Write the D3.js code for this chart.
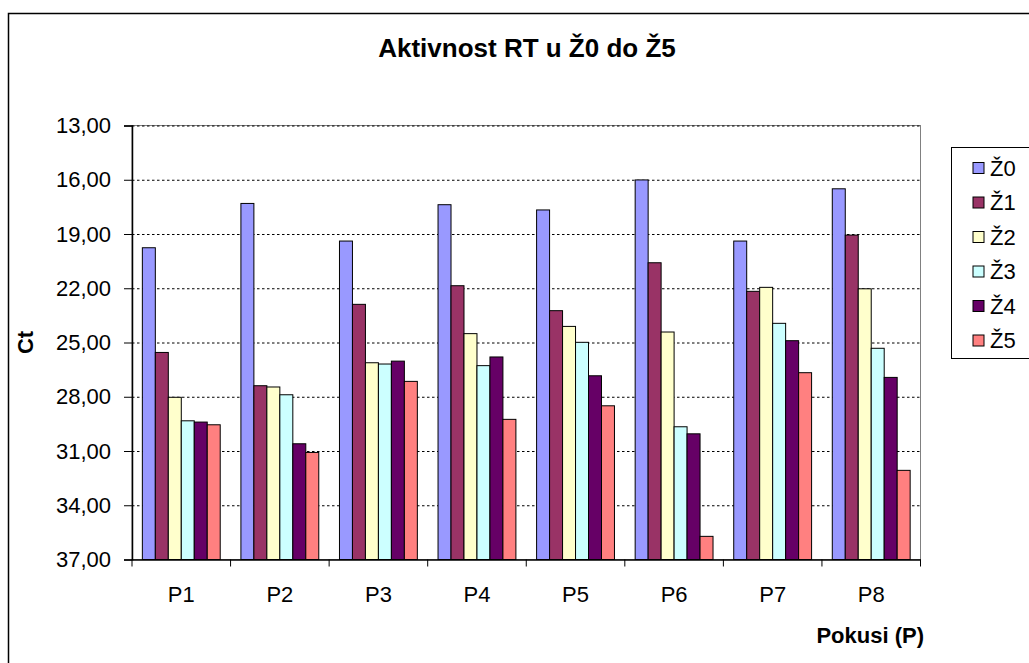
<html>
<head>
<meta charset="utf-8">
<script src="https://d3js.org/d3.v7.min.js"></script>
<style>
  body { margin: 0; background: #fff; }
  text { font-family: "Liberation Sans", Arial, sans-serif; fill: #000; }
  .tickLabel { font-size: 22px; }
  .grid line { stroke: #000; stroke-dasharray: 2.5,2.5; }
  .grid .domain { display: none; }
</style>
</head>
<body>
<svg width=1029 height=663 id="chart"></svg>
<script>
  // data
  categories = ["P1", "P2", "P3", "P4", "P5", "P6", "P7", "P8"];
  seriesNames = ["Ž0", "Ž1", "Ž2", "Ž3", "Ž4", "Ž5"];
  seriesColors = ["#9999FF", "#993366", "#FFFFCC", "#CCFFFF", "#660066", "#FF8080"];
  z0 = [19.76, 17.31, 19.39, 17.38, 17.67, 16.01, 19.39, 16.50];
  z1 = [25.55, 27.39, 22.89, 21.86, 23.24, 20.59, 22.17, 19.06];
  z2 = [28.03, 27.46, 26.12, 24.51, 24.11, 24.42, 21.95, 22.03];
  z3 = [29.33, 27.89, 26.19, 26.28, 24.99, 29.66, 23.94, 25.32];
  z4 = [29.40, 30.60, 26.03, 25.80, 26.84, 30.05, 24.90, 26.93];
  z5 = [29.55, 31.08, 27.15, 29.25, 28.50, 35.72, 26.67, 32.07];
  yTicks = [13, 16, 19, 22, 25, 28, 31, 34, 37];
  allSeries = [z0, z1, z2, z3, z4, z5];

  plotLeft = 132; plotRight = 920.5; plotTop = 125.5; plotBottom = 559.5;

  svg = d3.select("#chart");

  // outer chart border
  svg.append("rect")
      .attr("x", 8.5).attr("y", 13.5)
      .attr("width", 1040).attr("height", 700)
      .attr("fill", "none")
      .attr("stroke", "#000")
      .attr("stroke-width", 1.5);

  y = d3.scaleLinear().domain([13, 37]).range([plotTop, plotBottom]);
  x = d3.scaleBand().domain(categories).range([plotLeft, plotRight]);
  gap = x.bandwidth() * 0.21;
  x1 = d3.scaleBand().domain(seriesNames).range([gap / 2, x.bandwidth() - gap / 2]);

  // plot area border
  svg.append("rect")
      .attr("x", plotLeft).attr("y", plotTop)
      .attr("width", plotRight - plotLeft).attr("height", plotBottom - plotTop)
      .attr("fill", "none")
      .attr("stroke", "#808080");

  // gridlines
  svg.append("g")
      .attr("class", "grid")
      .attr("transform", "translate(" + plotLeft + ",0)")
      .call(d3.axisLeft(y).tickValues(yTicks.slice(0, -1)).tickSize(-(plotRight - plotLeft)).tickFormat(""));

  // bars
  groups = svg.append("g")
      .selectAll("g")
      .data(categories)
      .join("g")
      .attr("transform", c => "translate(" + x(c) + ",0)");

  groups.selectAll("rect")
      .data((c, i) => seriesNames.map((s, j) => ({ s: s, v: allSeries[j][i], col: seriesColors[j] })))
      .join("rect")
      .attr("x", d => x1(d.s))
      .attr("width", x1.bandwidth())
      .attr("y", d => y(d.v))
      .attr("height", d => y(37) - y(d.v))
      .attr("fill", d => d.col)
      .attr("stroke", "#000")
      .attr("stroke-width", 1);

  // y axis
  yAxis = svg.append("g")
      .attr("transform", "translate(" + plotLeft + ",0)")
      .call(d3.axisLeft(y).tickValues(yTicks).tickSize(8).tickPadding(13)
          .tickFormat(d => d3.format(".2f")(d).replace(".", ",")));
  yAxis.selectAll("line").attr("stroke", "#000");
  yAxis.select(".domain").attr("stroke", "#000").attr("stroke-width", 1.5);
  yAxis.selectAll("text").attr("class", "tickLabel").attr("font-size", null).attr("font-family", null);

  // x axis
  xAxis = svg.append("g")
      .attr("transform", "translate(0," + plotBottom + ")")
      .call(d3.axisBottom(x).tickSize(0).tickPadding(27));
  xAxis.select(".domain").attr("stroke", "#000").attr("stroke-width", 1.5);
  xAxis.selectAll("text").attr("class", "tickLabel").attr("font-size", null).attr("font-family", null);

  // ticks on the category boundaries
  xAxis.selectAll(".sep")
      .data(categories.map(c => x(c)).concat([plotRight]))
      .join("line")
      .attr("class", "sep")
      .attr("x1", d => d).attr("x2", d => d)
      .attr("y1", 0).attr("y2", 7)
      .attr("stroke", "#000");

  // titles
  svg.append("text")
      .attr("x", 527).attr("y", 57)
      .attr("text-anchor", "middle")
      .style("font-size", "26px").style("font-weight", "bold")
      .text("Aktivnost RT u Ž0 do Ž5");

  svg.append("text")
      .attr("transform", "translate(33," + ((plotTop + plotBottom) / 2) + ") rotate(-90)")
      .attr("text-anchor", "middle")
      .style("font-size", "22px").style("font-weight", "bold")
      .text("Ct");

  svg.append("text")
      .attr("x", 924).attr("y", 643)
      .attr("text-anchor", "end")
      .style("font-size", "22px").style("font-weight", "bold")
      .text("Pokusi (P)");

  // legend
  legend = svg.append("g");
  legend.append("rect")
      .attr("x", 951.5).attr("y", 147.5)
      .attr("width", 100).attr("height", 211)
      .attr("fill", "#fff")
      .attr("stroke", "#000");

  items = legend.selectAll(".item")
      .data(seriesNames)
      .join("g")
      .attr("class", "item")
      .attr("transform", (d, i) => "translate(973," + (168 + i * 34.5) + ")");
  items.append("rect")
      .attr("x", 0).attr("y", -5.5)
      .attr("width", 11).attr("height", 11)
      .attr("fill", (d, i) => seriesColors[i])
      .attr("stroke", "#000");
  items.append("text")
      .attr("x", 17).attr("dy", "0.35em")
      .attr("class", "tickLabel")
      .text(d => d);
</script>
</body>
</html>
